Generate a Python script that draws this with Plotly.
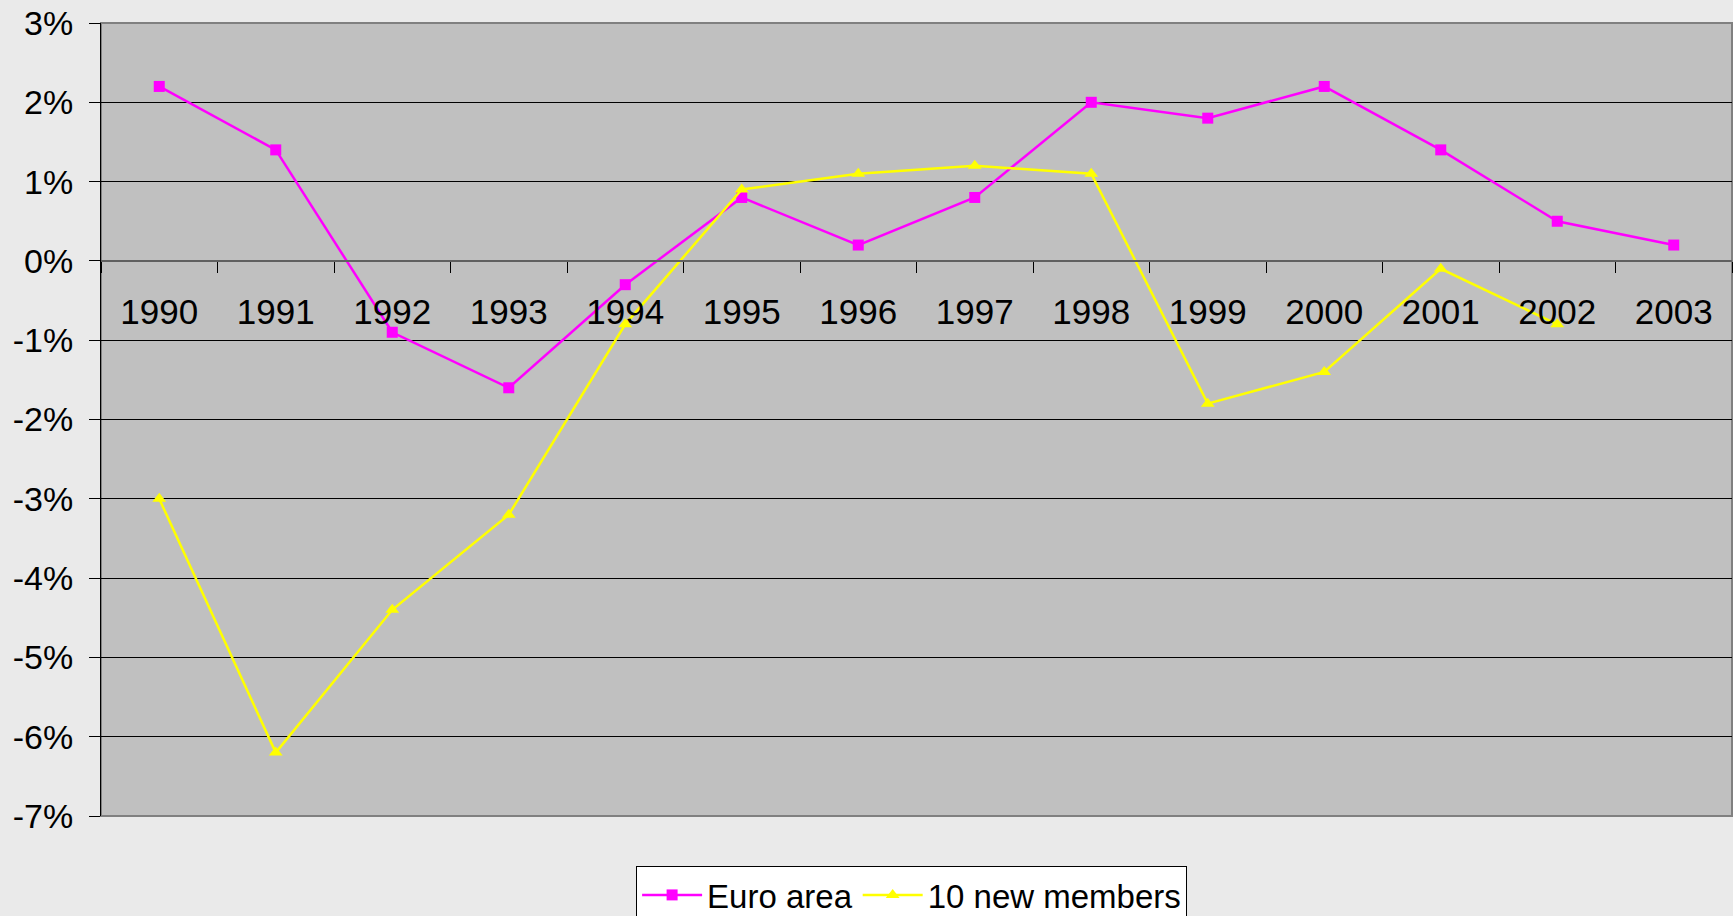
import plotly.graph_objects as go

years = ["1990", "1991", "1992", "1993", "1994", "1995", "1996", "1997",
         "1998", "1999", "2000", "2001", "2002", "2003"]
euro_area = [2.2, 1.4, -0.9, -1.6, -0.3, 0.8, 0.2, 0.8, 2.0, 1.8, 2.2, 1.4, 0.5, 0.2]
new_members = [-3.0, -6.2, -4.4, -3.2, -0.8, 0.9, 1.1, 1.2, 1.1, -1.8, -1.4, -0.1, -0.8, None]
y_tick_values = [3, 2, 1, 0, -1, -2, -3, -4, -5, -6, -7]
y_tick_labels = ["3%", "2%", "1%", "0%", "-1%", "-2%", "-3%", "-4%", "-5%", "-6%", "-7%"]

FONT = "Liberation Sans, Arial, sans-serif"

fig = go.Figure()
fig.add_trace(go.Scatter(
    x=years, y=euro_area, name="Euro area", mode="lines+markers",
    line=dict(color="#FF00FF", width=2.5),
    marker=dict(symbol="square", size=11, color="#FF00FF"),
))
fig.add_trace(go.Scatter(
    x=years, y=new_members, name="10 new members", mode="lines+markers",
    line=dict(color="#FFFF00", width=2.5),
    marker=dict(symbol="triangle-up", size=12, color="#FFFF00"),
))

fig.update_layout(
    width=1733, height=916,
    margin=dict(l=101, r=1, t=23, b=100, autoexpand=False),
    paper_bgcolor="#EAEAEA",
    plot_bgcolor="#C0C0C0",
    font=dict(family=FONT, color="black"),
    showlegend=True,
    legend=dict(
        orientation="h", x=0.497, xanchor="center", y=-0.063, yanchor="top",
        bgcolor="white", bordercolor="black", borderwidth=1,
        font=dict(size=33, family=FONT), itemwidth=60,
    ),
    xaxis=dict(
        type="category", anchor="free", position=0.7,
        showgrid=False, zeroline=False,
        showline=True, linecolor="#606060", linewidth=2,
        ticks="outside", ticklen=11, tickcolor="black", tickwidth=1,
        tickson="boundaries",
        tickfont=dict(size=35, family=FONT),
        ticklabelstandoff=20,
        range=[-0.5, 13.5],
    ),
    yaxis=dict(
        range=[-7, 3], tickmode="array", tickvals=y_tick_values, ticktext=y_tick_labels,
        showgrid=True, gridcolor="black", gridwidth=1,
        zeroline=False,
        showline=True, linecolor="black", linewidth=1,
        ticks="outside", ticklen=11, tickcolor="black",
        tickfont=dict(size=34, family=FONT),
        ticklabelstandoff=9,
    ),
    shapes=[dict(type="rect", xref="paper", yref="paper", x0=0, x1=1, y0=0, y1=1,
                 line=dict(color="#808080", width=2), layer="below")],
)

fig.write_html(
    "out.html",
    config={"displayModeBar": False},
    post_script=(
        "document.documentElement.style.margin='0';"
        "document.documentElement.style.overflow='hidden';"
        "document.body.style.margin='0';"
        "document.body.style.overflow='hidden';"
        "document.body.style.background='#EAEAEA';"
    ),
)
